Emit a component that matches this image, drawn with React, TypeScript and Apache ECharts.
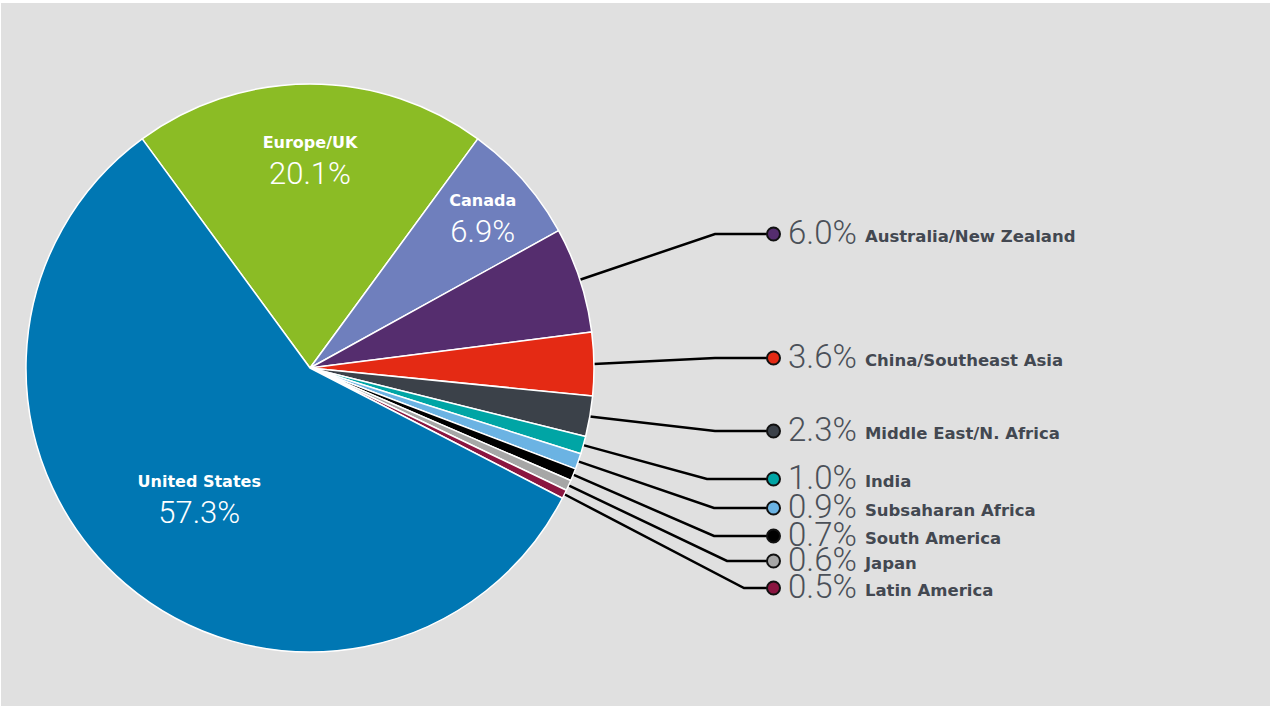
import React, { useEffect, useRef } from "react";
import * as echarts from "echarts";

// ---- data ----
const regions = [
  "Europe/UK",
  "Canada",
  "Australia/New Zealand",
  "China/Southeast Asia",
  "Middle East/N. Africa",
  "India",
  "Subsaharan Africa",
  "South America",
  "Japan",
  "Latin America",
  "United States",
];
const shares = [20.1, 6.9, 6.0, 3.6, 2.3, 1.0, 0.9, 0.7, 0.6, 0.5, 57.3];
const colors = [
  "#8bbc25",
  "#6f7fbd",
  "#552d6e",
  "#e42a14",
  "#3b4149",
  "#00a5a5",
  "#6bb3e3",
  "#000000",
  "#a6a6a6",
  "#8a1540",
  "#0077b3",
];

// ---- layout (positions / styles only) ----
const CX = 310;
const CY = 368;
const R = 284;
const DOT_X = 773;
// inside labels: fraction of radius along the slice's mid angle
const insideRadius: Record<number, number> = { 0: 0.74, 1: 0.81, 10: 0.6 };
// outside labels: elbow x and label row y
const outsideRows: Record<number, { elbowX: number; y: number }> = {
  2: { elbowX: 715, y: 234 },
  3: { elbowX: 715, y: 358 },
  4: { elbowX: 715, y: 431 },
  5: { elbowX: 707, y: 479 },
  6: { elbowX: 714, y: 508 },
  7: { elbowX: 714, y: 536 },
  8: { elbowX: 727, y: 561 },
  9: { elbowX: 744, y: 588 },
};

const NAME_FONT = "'DejaVu Sans', 'Liberation Sans', Arial, sans-serif";
const PCT_FONT = "Roboto, 'Liberation Sans', sans-serif";

export default function App() {
  const ref = useRef<HTMLDivElement>(null);

  useEffect(() => {
    if (!ref.current) return;
    const chart = echarts.init(ref.current, undefined, { renderer: "svg" });

    const total = shares.reduce((a, b) => a + b, 0);
    const startAngle = 90 + ((shares[0] / total) * 360) / 2;
    // compass mid angles (clockwise from 12 o'clock), in radians
    const mids: number[] = [];
    let acc = -((shares[0] / total) * 360) / 2;
    shares.forEach((v) => {
      const span = (v / total) * 360;
      mids.push(((acc + span / 2) * Math.PI) / 180);
      acc += span;
    });

    const rich: Record<string, any> = {
      n: {
        fontFamily: NAME_FONT,
        fontWeight: "bold",
        fontSize: 16,
        color: "#fff",
        lineHeight: 31,
        align: "center",
      },
      p: {
        fontFamily: PCT_FONT,
        fontWeight: 300,
        fontSize: 31,
        color: "#fff",
        lineHeight: 31,
        align: "center",
      },
      op: {
        fontFamily: PCT_FONT,
        fontWeight: 300,
        fontSize: 33,
        color: "#4b5058",
        lineHeight: 22,
        padding: [0, 8, 3, 9],
      },
      on: {
        fontFamily: NAME_FONT,
        fontWeight: "bold",
        fontSize: 16.5,
        color: "#434851",
        lineHeight: 20,
        padding: [5, 0, 0, 0],
      },
    };
    colors.forEach((c, i) => {
      rich["d" + i] = {
        width: 11,
        height: 11,
        borderRadius: 7,
        backgroundColor: c,
        borderColor: "#111",
        borderWidth: 2,
      };
    });

    const data = regions.map((name, i) => {
      const inside = insideRadius[i] !== undefined;
      const pct = shares[i].toFixed(1) + "%";
      return {
        name,
        value: shares[i],
        itemStyle: { color: colors[i] },
        label: {
          formatter: inside
            ? `{n|${name}}\n{p|${pct}}`
            : `{d${i}|}{op|${pct}}{on|${name}}`,
        },
        labelLine: { show: !inside },
      };
    });

    chart.setOption({
      animation: false,
      backgroundColor: "transparent",
      series: [
        {
          type: "pie",
          center: [CX, CY],
          radius: R,
          startAngle,
          clockwise: true,
          avoidLabelOverlap: false,
          silent: true,
          emphasis: { disabled: true },
          itemStyle: { borderColor: "#ffffff", borderWidth: 1.5 },
          label: { show: true, position: "outside", rich },
          labelLine: {
            show: true,
            smooth: false,
            lineStyle: { color: "#000", width: 2.5 },
          },
          labelLayout: (params: any) => {
            const i = params.dataIndex;
            const a = mids[i];
            if (insideRadius[i] !== undefined) {
              const r = insideRadius[i] * R;
              return {
                x: CX + Math.sin(a) * r,
                y: CY - Math.cos(a) * r,
                align: "center",
                verticalAlign: "middle",
              };
            }
            const row = outsideRows[i];
            const edge = [CX + Math.sin(a) * R, CY - Math.cos(a) * R];
            return {
              x: DOT_X - 5,
              y: row.y,
              align: "left",
              verticalAlign: "middle",
              labelLinePoints: [edge, [row.elbowX, row.y], [DOT_X, row.y]],
            };
          },
          data,
        },
      ],
    });

    return () => chart.dispose();
  }, []);

  return (
    <div
      style={{
        position: "fixed",
        left: 0,
        top: 0,
        width: 1270,
        height: 706,
        background: "#ffffff",
        overflow: "hidden",
      }}
    >
      <div
        style={{
          position: "absolute",
          left: 1,
          top: 3,
          right: 0,
          bottom: 0,
          background: "#e0e0e0",
        }}
      />
      <div
        ref={ref}
        style={{ position: "absolute", left: 0, top: 0, width: 1270, height: 706 }}
      />
    </div>
  );
}
